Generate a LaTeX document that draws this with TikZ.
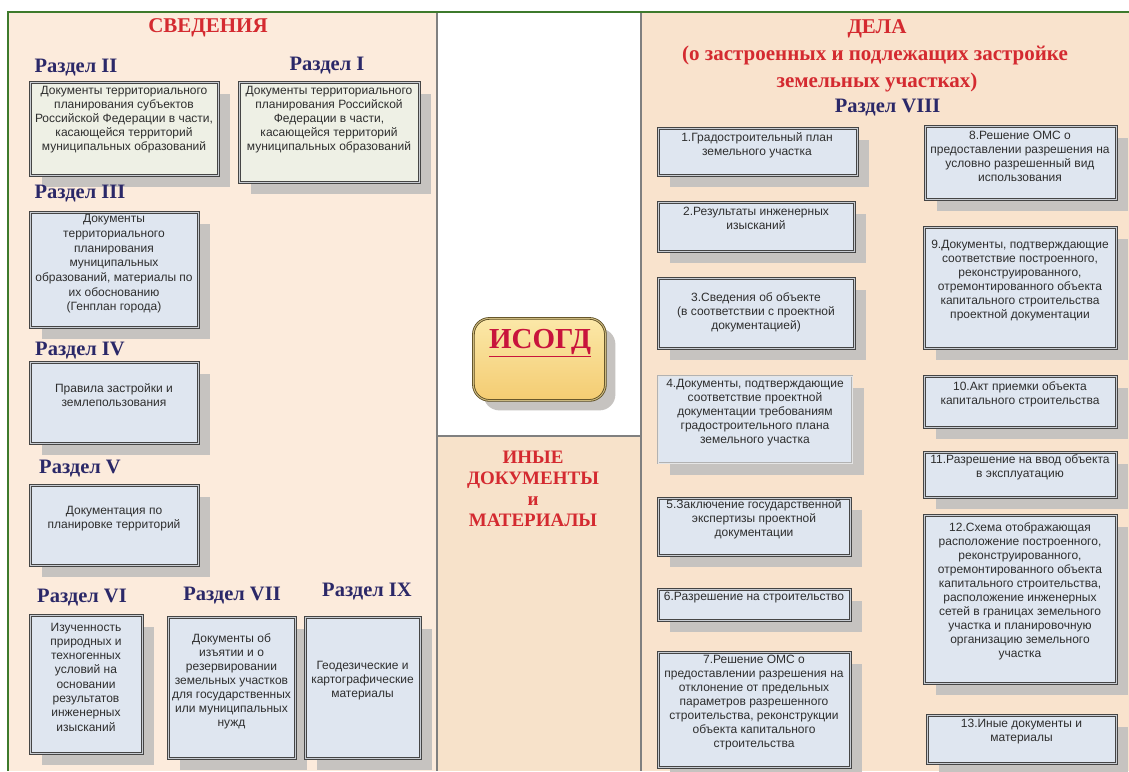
\documentclass[tikz,border=0pt]{standalone}
\usepackage{fontspec}
\setmainfont{Liberation Serif}
\setsansfont{Liberation Sans}
\usetikzlibrary{shadows}
\definecolor{leftbg}{HTML}{FCEBDC}
\definecolor{rightbg}{HTML}{F9E3CD}
\definecolor{midbg}{HTML}{F7E2CA}
\definecolor{frameg}{HTML}{3E7A2C}
\definecolor{sepgray}{HTML}{808080}
\definecolor{boxline}{HTML}{454545}
\definecolor{boxgap}{HTML}{C8CCD2}
\definecolor{boxfill}{HTML}{DFE6F0}
\definecolor{creamfill}{HTML}{EEF0E5}
\definecolor{shadowgray}{HTML}{C6C3C0}
\definecolor{titlered}{HTML}{D42A30}
\definecolor{navy}{HTML}{2B2868}
\definecolor{txtgray}{HTML}{2E2E2E}
\definecolor{isored}{HTML}{C8143C}
\definecolor{goldtop}{HTML}{FBE8A8}
\definecolor{goldbot}{HTML}{F4CC72}
\definecolor{goldline}{HTML}{5A4A20}
\newcommand\docbox[6]{\node[#2, minimum width={#5-#3}, minimum height={#6-#4}] (#1) at (#3,-#4) {};}
\begin{document}
\begin{tikzpicture}[x=1pt,y=1pt,
  docbox/.style={draw=boxline, line width=0.9pt, double=boxgap, double distance=1.4pt,
    fill=boxfill, inner sep=0pt, anchor=north west,
    general shadow={fill=shadowgray, shadow xshift=12pt, shadow yshift=-12pt}},
  creambox/.style={docbox, fill=creamfill},
  lightbox/.style={docbox, draw=gray!60, double=gray!20, line width=0.5pt, double distance=1pt},
  btext/.style={font=\sffamily\fontsize{12}{14}\selectfont, align=center, text=txtgray, inner sep=0pt},
  redtitle/.style={font=\bfseries\fontsize{21}{26}\selectfont, text=titlered, align=center, inner sep=0pt, anchor=base},
  sectitle/.style={font=\bfseries\fontsize{20.5}{24}\selectfont, text=navy, inner sep=0pt, anchor=base},
  panelline/.style={draw=sepgray, line width=1.3pt},
  greenline/.style={draw=frameg, line width=2.5pt}]
\clip (0,0) rectangle (1129,-771);
\fill[white] (0,0) rectangle (1129,-771);
% panels
\fill[leftbg] (8,-12) rectangle (437,-771);
\fill[midbg] (437,-436) rectangle (641,-771);
\fill[rightbg] (641,-12) rectangle (1129,-771);
\draw[panelline] (437,-12) -- (437,-771);
\draw[panelline] (641,-12) -- (641,-771);
\draw[panelline] (437,-436) -- (641,-436);
\draw[greenline] (7,-12) -- (1129,-12);
\draw[greenline] (8,-12) -- (8,-771);

% left boxes
\docbox{b2}{creambox}{30}{82}{218}{175}
\docbox{b1}{creambox}{239}{82}{419}{182}
\docbox{b3}{docbox}{30}{212}{198}{327}
\docbox{b4}{docbox}{30}{362}{198}{443}
\docbox{b5}{docbox}{30}{485}{198}{565}
\docbox{b6}{docbox}{30}{615}{142}{753}
\docbox{b7}{docbox}{168}{617}{295}{758}
\docbox{b9}{docbox}{305}{617}{420}{758}

% left titles
\node[redtitle] (svt) at (208,-32) {СВЕДЕНИЯ};
\node[sectitle] (s2) at (76,-72) {Раздел II};
\node[sectitle] (s1) at (327,-70) {Раздел I};
\node[sectitle] (s3) at (80,-198) {Раздел III};
\node[sectitle] (s4) at (80,-355) {Раздел IV};
\node[sectitle] (s5) at (80,-473) {Раздел V};
\node[sectitle] (s6) at (82,-602) {Раздел VI};
\node[sectitle] (s7) at (232,-600) {Раздел VII};
\node[sectitle] (s9) at (367,-596) {Раздел IX};

\node[btext] (t2) at (124,-120) {Документы территориального\\планирования субъектов\\Российской Федерации в части,\\касающейся территорий\\муниципальных образований};
\node[btext] (t1) at (329,-120) {Документы территориального\\планирования Российской\\Федерации в части,\\касающейся территорий\\муниципальных образований};
\node[btext, font=\sffamily\fontsize{12}{14.7}\selectfont] (t3) at (114,-264) {Документы\\территориального\\планирования\\муниципальных\\образований, материалы по\\их обоснованию\\(Генплан города)};
\node[btext] (t4) at (114,-395) {Правила застройки и\\землепользования};
\node[btext] (t5) at (114,-518.5) {Документация по\\планировке территорий};
\node[btext, font=\sffamily\fontsize{12}{14.3}\selectfont] (t6) at (86,-677) {Изученность\\природных и\\техногенных\\условий на\\основании\\результатов\\инженерных\\изысканий};
\node[btext] (t7) at (231.5,-681.5) {Документы об\\изъятии и о\\резервировании\\земельных участков\\для государственных\\или муниципальных\\нужд};
\node[btext] (t9) at (362.5,-681) {Геодезические и\\картографические\\материалы};

% center
\node[draw=goldline, line width=0.8pt, double=goldtop!70!goldline, double distance=1pt,
  rounded corners=16pt, top color=goldtop, bottom color=goldbot, anchor=north west,
  minimum width=132pt, minimum height=82pt, inner sep=0pt,
  general shadow={fill=shadowgray, shadow xshift=10pt, shadow yshift=-10pt}] (isogd) at (473,-318) {};
\node[font=\bfseries\fontsize{29}{30}\selectfont, text=isored, inner sep=0pt] (isot) at (540,-343) {\underline{ИСОГД}};
\node[redtitle, font=\bfseries\fontsize{19}{21.2}\selectfont, anchor=center] (inye) at (533,-489) {ИНЫЕ\\ДОКУМЕНТЫ\\и\\МАТЕРИАЛЫ};

% right titles
\node[redtitle] (dela1) at (877,-33) {ДЕЛА};
\node[redtitle] (dela2) at (875,-60) {(о застроенных и подлежащих застройке};
\node[redtitle] (dela3) at (877,-87) {земельных участках)};
\node[sectitle] (s8) at (887.5,-112) {Раздел VIII};

% right boxes
\docbox{d1}{docbox}{658}{128}{857}{175}
\docbox{d2}{docbox}{658}{202}{854}{251}
\docbox{d3}{docbox}{658}{278}{854}{348}
\docbox{d4}{lightbox}{658}{376}{852}{463}
\docbox{d5}{docbox}{658}{498}{850}{555}
\docbox{d6}{docbox}{658}{589}{850}{620}
\docbox{d7}{docbox}{658}{652}{850}{767}
\docbox{d8}{docbox}{925}{126}{1116}{199}
\docbox{d9}{docbox}{924}{227}{1116}{348}
\docbox{d10}{docbox}{924}{376}{1116}{427}
\docbox{d11}{docbox}{924}{452}{1116}{497}
\docbox{d12}{docbox}{924}{515}{1116}{683}
\docbox{d13}{docbox}{927}{715}{1116}{763}

\node[btext] (r1) at (757,-145) {1.Градостроительный план\\земельного участка};
\node[btext] (r2) at (756,-218.5) {2.Результаты инженерных\\изысканий};
\node[btext] (r3) at (756,-312.5) {3.Сведения об объекте\\(в соответствии с проектной\\документацией)};
\node[btext] (r4) at (755,-412.5) {4.Документы, подтверждающие\\соответствие проектной\\документации требованиям\\градостроительного плана\\земельного участка};
\node[btext] (r5) at (754,-519) {5.Заключение государственной\\экспертизы проектной\\документации};
\node[btext] (r6) at (754,-598) {6.Разрешение на строительство};
\node[btext] (r7) at (754,-702.5) {7.Решение ОМС о\\предоставлении разрешения на\\отклонение от предельных\\параметров разрешенного\\строительства, реконструкции\\объекта капитального\\строительства};
\node[btext] (r8) at (1020,-156) {8.Решение ОМС о\\предоставлении разрешения на\\условно разрешенный вид\\использования};
\node[btext] (r9) at (1020,-280.5) {9.Документы, подтверждающие\\соответствие построенного,\\реконструированного,\\отремонтированного объекта\\капитального строительства\\проектной документации};
\node[btext] (r10) at (1020,-394) {10.Акт приемки объекта\\капитального строительства};
\node[btext] (r11) at (1020,-467) {11.Разрешение на ввод объекта\\в эксплуатацию};
\node[btext] (r12) at (1020,-591.5) {12.Схема отображающая\\расположение построенного,\\реконструированного,\\отремонтированного объекта\\капитального строительства,\\расположение инженерных\\сетей в границах земельного\\участка и планировочную\\организацию земельного\\участка};
\node[btext] (r13) at (1021.5,-732) {13.Иные документы и\\материалы};
\end{tikzpicture}
\end{document}
